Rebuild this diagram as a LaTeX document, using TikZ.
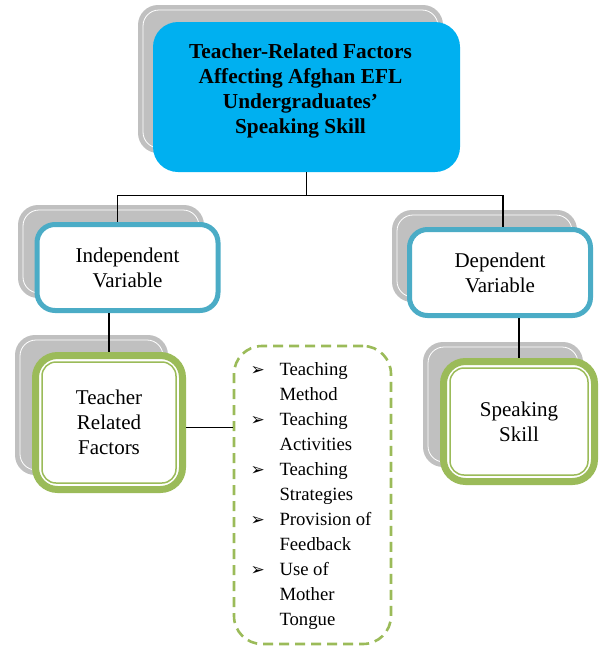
\documentclass[tikz,border=0pt]{standalone}
\usepackage{fontspec}
\setmainfont{Liberation Serif}
\newfontfamily\symfont{DejaVu Sans}
\usepackage{array}
\usetikzlibrary{positioning}

\definecolor{skyblue}{HTML}{00B0F0}
\definecolor{varblue}{HTML}{4BACC6}
\definecolor{leafgreen}{HTML}{9BBB59}
\definecolor{plategray}{HTML}{C0C0C0}

% arrowhead bullet for the factor list
\newcommand{\arrbul}{{\symfont\fontsize{17}{17}\selectfont ➢}}

\tikzset{
  titlebox/.style={fill=skyblue, rounded corners=25pt, minimum width=307pt, minimum height=150pt},
  varbox/.style={draw=varblue, line width=5pt, fill=white, rounded corners=18pt, align=center,
    minimum width=181pt, minimum height=86pt},
  factorbox/.style={draw=leafgreen, line width=7pt, fill=white, rounded corners=22pt, align=center},
  listbox/.style={draw=leafgreen, line width=2.6pt, dash pattern=on 10pt off 6pt,
    rounded corners=28pt, minimum width=157pt, minimum height=298pt,
    font=\fontsize{18.7}{25}\selectfont},
  link/.style={line width=1.3pt}
}

\begin{document}
\begin{tikzpicture}[x=1pt, y=-1pt, every node/.style={font=\fontsize{21}{25}\selectfont}]
  \useasboundingbox (0,0) rectangle (600,646);

  % grey back plates
  \foreach \xa/\ya/\xb/\yb in {138/5/443/153, 18/205/204/298, 392/210/577/302,
                               15/335/168/475, 423/342/583/467}{
    \fill[plategray, rounded corners=20pt] (\xa,\ya) rectangle (\xb,\yb);
    \draw[white, line width=0.8pt, rounded corners=16pt] (\xa+5,\ya+5) rectangle (\xb-5,\yb-5);
  }

  % boxes
  \node[titlebox] (top) at (306.5,97) {};
  \node[font=\bfseries\fontsize{21.3}{25}\selectfont, align=center] (title) at (300.5,91)
    {Teacher-Related Factors\\Affecting Afghan EFL\\Undergraduates'\\Speaking Skill};

  \node[varbox] (indep) at (127.5,267.5) {Independent\\Variable};
  \node[varbox] (dep) at (500,272.5) {Dependent\\Variable};

  \node[factorbox, minimum width=147pt, minimum height=134pt] (teacher) at (109,422.5)
    {Teacher\\Related\\Factors};
  \node[factorbox, minimum width=151pt, minimum height=120pt] (speak) at (519,421.5)
    {Speaking\\Skill};
  \foreach \n in {teacher,speak}
    \draw[leafgreen, line width=1.5pt, rounded corners=14pt]
      ([shift={(10pt,-10pt)}]\n.north west) rectangle ([shift={(-10pt,10pt)}]\n.south east);

  \node[listbox] (list) at (312.5,495) {%
    \begin{tabular}{@{}>{\raggedright}p{29pt}@{}>{\raggedright\arraybackslash}p{95pt}@{}}
      \arrbul & Teaching\\ & Method\\
      \arrbul & Teaching\\ & Activities\\
      \arrbul & Teaching\\ & Strategies\\
      \arrbul & Provision of\\ & Feedback\\
      \arrbul & Use of\\ & Mother\\ & Tongue
    \end{tabular}};

  % connectors
  \draw[link] (top.south) -- ++(0,23) -| ([xshift=-10pt]indep.north);
  \draw[link] (top.south) -- ++(0,23) -| ([xshift=3pt]dep.north);
  \draw[link] (teacher.north |- indep.south) -- (teacher.north);
  \draw[link] (speak.north |- dep.south) -- (speak.north);
  \draw[link] ([yshift=-5pt]teacher.east) -- ([yshift=-5pt]teacher.east -| list.west);
\end{tikzpicture}
\end{document}
